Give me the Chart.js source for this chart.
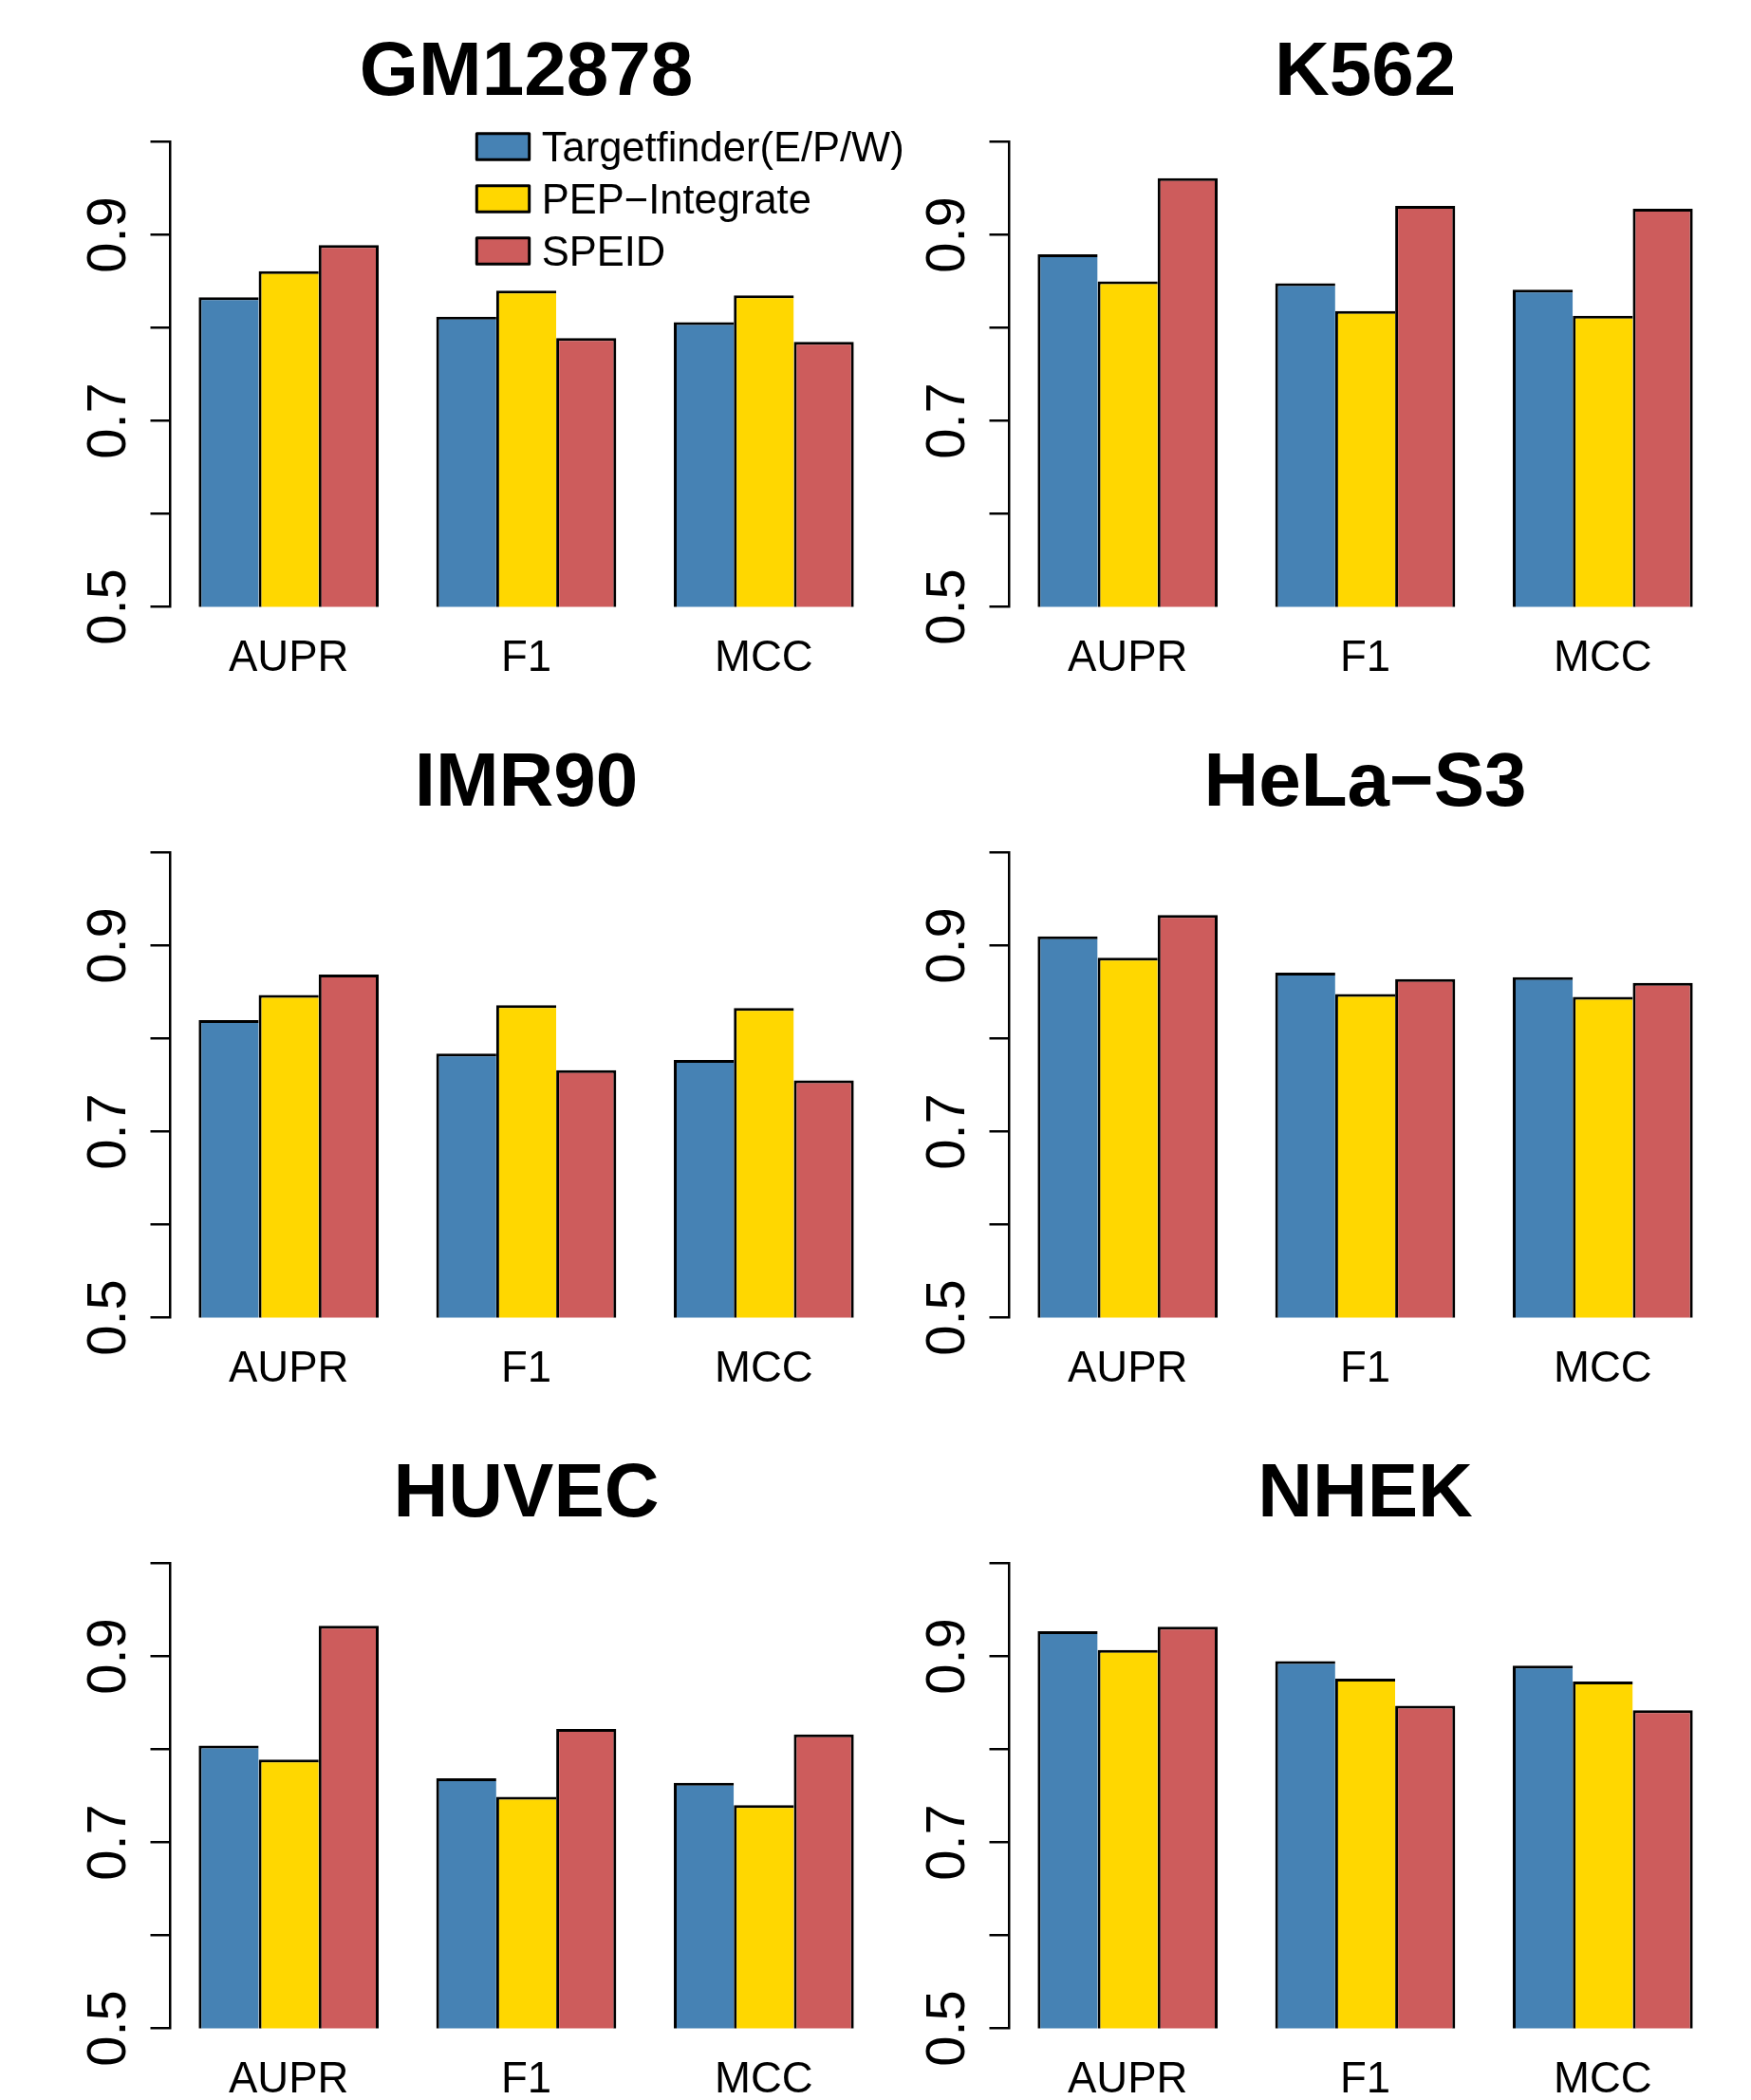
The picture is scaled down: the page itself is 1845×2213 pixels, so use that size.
<!DOCTYPE html>
<html>
<head>
<meta charset="utf-8">
<script src="https://cdn.jsdelivr.net/npm/chart.js@4.4.1/dist/chart.umd.min.js"></script>
<style>
  html, body { margin: 0; padding: 0; background: #fff; }
  #page { position: relative; width: 1845px; height: 2213px; overflow: hidden; background: #fff; }
  #page canvas { position: absolute; }
</style>
</head>
<body>
<div id="page"></div>
<script>
/* ===============================
   DATA
================================ */
const categories = ["AUPR", "F1", "MCC"];
const methods = ["Targetfinder(E/P/W)", "PEP\u2212Integrate", "SPEID"];
const methodColors = ["#4682B4", "#FFD700", "#CD5C5C"];
const cellLines = ["GM12878", "K562", "IMR90", "HeLa\u2212S3", "HUVEC", "NHEK"];
const yTickLabels = ["0.5", "0.7", "0.9"];

// one row per method (Targetfinder, PEP-Integrate, SPEID), columns = categories
const gm12878 = [[0.833, 0.812, 0.806], [0.861, 0.840, 0.835], [0.889, 0.789, 0.785]];
const k562    = [[0.879, 0.848, 0.841], [0.850, 0.818, 0.813], [0.961, 0.931, 0.928]];
const imr90   = [[0.820, 0.784, 0.777], [0.847, 0.836, 0.833], [0.869, 0.766, 0.755]];
const helaS3  = [[0.910, 0.871, 0.866], [0.887, 0.848, 0.845], [0.933, 0.864, 0.860]];
const huvec   = [[0.804, 0.769, 0.764], [0.789, 0.749, 0.740], [0.933, 0.822, 0.816]];
const nhek    = [[0.927, 0.895, 0.890], [0.907, 0.876, 0.873], [0.932, 0.847, 0.842]];

const panelValues = [gm12878, k562, imr90, helaS3, huvec, nhek];

/* ===============================
   LAYOUT
================================ */
const PANEL_W = 970, PANEL_H = 749;
const COL_X = [0, 884];
const ROW_Y = [0, 749, 1498];
const AREA_LEFT = 179, AREA_RIGHT = 930, AREA_TOP = 149.5, AREA_BOTTOM = 639.5;
const TITLE_PAD_TOP = 30;
const FONT = '"Liberation Sans", Arial, Helvetica, sans-serif';

Chart.defaults.font.family = FONT;
Chart.defaults.color = "#000";

/* ===============================
   LEGEND (drawn inside first panel)
================================ */
const boxLegend = {
    id: "boxLegend",
    afterDraw(chart, args, opts) {
        if (!opts.display) return;
        const { ctx, chartArea } = chart;
        const x0 = chartArea.left + opts.offsetX;
        const y0 = chartArea.top + opts.offsetY;
        ctx.save();
        ctx.font = opts.fontSize + "px " + FONT;
        ctx.textBaseline = "middle";
        ctx.textAlign = "left";
        chart.data.datasets.forEach((ds, k) => {
            const y = y0 + k * opts.rowGap;
            ctx.fillStyle = ds.backgroundColor;
            ctx.fillRect(x0, y, opts.boxW, opts.boxH);
            ctx.lineWidth = 3;
            ctx.lineJoin = "round";
            ctx.strokeStyle = "#000";
            ctx.strokeRect(x0, y, opts.boxW, opts.boxH);
            ctx.fillStyle = "#000";
            ctx.fillText(ds.label, x0 + opts.textGap, y + opts.boxH / 2 + 3.5);
        });
        ctx.restore();
    }
};

/* ===============================
   PANELS
================================ */
const page = document.getElementById("page");

function makePanel(i) {
    const canvas = document.createElement("canvas");
    canvas.width = PANEL_W;
    canvas.height = PANEL_H;
    canvas.style.left = COL_X[i % 2] + "px";
    canvas.style.top = ROW_Y[Math.floor(i / 2)] + "px";
    canvas.style.width = PANEL_W + "px";
    canvas.style.height = PANEL_H + "px";
    page.appendChild(canvas);

    const values = panelValues[i];
    const bw = 3;

    return new Chart(canvas.getContext("2d"), {
        type: "bar",
        data: {
            labels: categories,
            datasets: methods.map((m, k) => ({
                label: m,
                data: values[k],
                backgroundColor: methodColors[k],
                borderColor: "#000",
                borderWidth: k === methods.length - 1
                    ? { top: bw, left: bw, right: bw, bottom: 0 }
                    : { top: bw, left: bw, right: 0, bottom: 0 },
                borderSkipped: "start",
                categoryPercentage: 3 / 3.96,
                barPercentage: 1
            }))
        },
        options: {
            responsive: false,
            animation: false,
            devicePixelRatio: 1,
            layout: { padding: { left: 0, top: 0, right: PANEL_W - AREA_RIGHT, bottom: 0 } },
            plugins: {
                legend: { display: false },
                tooltip: { enabled: false },
                title: {
                    display: true,
                    text: cellLines[i],
                    fullSize: false,
                    color: "#000",
                    font: { size: 80, weight: "bold", lineHeight: 1.2 },
                    padding: { top: TITLE_PAD_TOP, bottom: AREA_TOP - TITLE_PAD_TOP - 96 }
                },
                boxLegend: {
                    display: i === 0,
                    offsetX: 323.3,
                    offsetY: -8.8,
                    boxW: 55.4,
                    boxH: 27.6,
                    rowGap: 55,
                    textGap: 68.4,
                    fontSize: 43.5
                }
            },
            scales: {
                x: {
                    grid: { display: false, drawTicks: false },
                    border: { display: false },
                    ticks: { font: { size: 45.5 }, color: "#000", padding: 27.5, maxRotation: 0, autoSkip: false },
                    afterFit: s => { s.height = PANEL_H - AREA_BOTTOM; }
                },
                y: {
                    min: 0.5,
                    max: 1.0,
                    border: { display: true, color: "#000", width: 2.5 },
                    grid: { drawOnChartArea: false, drawTicks: true, tickLength: 20.5, color: "#000", lineWidth: 2.5 },
                    ticks: {
                        stepSize: 0.1,
                        autoSkip: false,
                        minRotation: 90,
                        maxRotation: 90,
                        crossAlign: "center",
                        padding: 2.4,
                        font: { size: 58 },
                        color: "#000",
                        callback: v => {
                            const s = Number(v).toFixed(1);
                            return yTickLabels.includes(s) ? s : "";
                        }
                    },
                    afterFit: s => { s.width = AREA_LEFT; }
                }
            }
        },
        plugins: [boxLegend]
    });
}

cellLines.forEach((name, i) => makePanel(i));
</script>
</body>
</html>
